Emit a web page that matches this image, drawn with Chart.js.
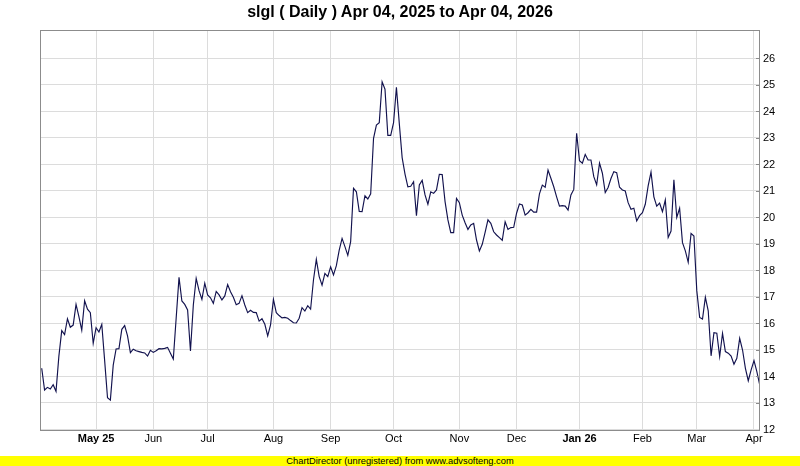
<!DOCTYPE html>
<html>
<head>
<meta charset="utf-8">
<script src="https://cdn.jsdelivr.net/npm/chart.js@4.4.1/dist/chart.umd.min.js"></script>
<style>
  html, body { margin: 0; padding: 0; background: #ffffff; }
  #wrap { position: relative; width: 800px; height: 466px; overflow: hidden; background: #fff; }
  #title { position: absolute; left: 0; top: 3px; width: 800px; text-align: center;
           font: bold 16px "Liberation Sans", Arial, sans-serif; color: #000; }
  #footer { position: absolute; left: 0; top: 456px; width: 800px; height: 10px; background: #ffff00;
            text-align: center; font: 9.3px/10px "Liberation Sans", Arial, sans-serif; color: #000; }
  canvas { position: absolute; left: 0; top: 0; }
</style>
</head>
<body>
<div id="wrap">
  <canvas id="c" width="800" height="466"></canvas>
  <div id="title">slgl ( Daily ) Apr 04, 2025 to Apr 04, 2026</div>
  <div id="footer">ChartDirector (unregistered) from www.advsofteng.com</div>
</div>
<script>
// Trading-day index of each reading (0 = Apr 04, 2025)
const dayIndex = [
  0,1,2,3,4,5,6,7,8,9,10,11,12,13,14,15,16,17,18,19,
  20,21,22,23,24,25,26,27,28,29,30,31,32,33,34,35,36,37,38,39,
  40,41,42,43,44,45,46,48,49,50,51,52,53,54,55,56,57,58,59,
  60,61,62,63,64,65,66,67,68,69,70,71,72,73,74,75,76,77,78,79,
  80,81,82,83,84,85,86,87,88,89,90,91,92,93,94,95,96,97,98,99,
  100,101,102,103,104,105,106,107,108,109,110,111,112,113,114,115,116,117,118,119,
  120,121,122,123,124,125,126,127,128,129,130,131,132,133,134,135,136,137,138,139,
  140,141,142,143,144,145,146,147,148,149,150,151,152,153,154,155,156,157,158,159,
  160,161,162,163,164,165,166,167,168,169,170,171,172,173,174,175,176,177,178,179,
  180,181,182,183,184,185,186,187,188,189,190,191,192,193,194,195,196,197,198,199,
  200,201,202,203,204,205,206,207,208,209,210,211,212,213,214,215,216,217,218,219,
  220,221,222,223,224,225,226,227,228,229,230,231,232,233,234,235,236,237,238,239,
  240,241,242,243,244,245,246,247,248,249,250,251
];
// Daily close values
const closeValues = [
  14.31,13.49,13.59,13.53,13.69,13.44,14.77,15.73,15.58,16.18,15.86,15.94,16.72,16.26,15.75,16.86,16.54,16.41,15.25,15.84,
  15.68,15.97,14.60,13.20,13.11,14.43,15.04,15.05,15.78,15.92,15.53,14.90,15.03,14.97,14.94,14.91,14.89,14.77,14.99,14.91,
  14.97,15.05,15.04,15.06,15.10,14.88,14.66,17.74,16.85,16.72,16.51,14.96,16.70,17.70,17.24,16.91,17.52,17.08,16.97,
  16.76,17.21,17.08,16.89,17.04,17.47,17.20,16.99,16.71,16.76,17.05,16.70,16.41,16.50,16.42,16.41,16.09,16.18,15.97,15.53,
  15.95,16.91,16.41,16.30,16.21,16.23,16.20,16.11,16.03,16.02,16.20,16.60,16.47,16.67,16.54,17.64,18.42,17.77,17.45,17.89,
  17.77,18.14,17.83,18.18,18.77,19.21,18.90,18.57,19.09,21.10,20.97,20.23,20.22,20.82,20.70,20.89,22.99,23.49,23.58,25.12,
  24.84,23.10,23.10,23.58,24.91,23.55,22.26,21.64,21.16,21.18,21.35,20.07,21.23,21.40,20.85,20.50,20.97,20.91,21.04,21.63,
  21.62,20.60,19.91,19.43,19.43,20.72,20.56,20.09,19.80,19.55,19.72,19.78,19.15,18.74,18.99,19.44,19.91,19.78,19.46,19.34,
  19.24,19.14,19.84,19.55,19.62,19.63,20.16,20.51,20.47,20.09,20.18,20.31,20.20,20.20,20.89,21.22,21.14,21.79,21.48,21.16,
  20.78,20.43,20.45,20.43,20.28,20.85,21.06,23.18,22.14,22.05,22.38,22.17,22.17,21.54,21.23,22.05,21.67,20.94,21.13,21.47,
  21.73,21.69,21.14,21.04,21.00,20.56,20.31,20.35,19.87,20.07,20.18,20.50,21.19,21.71,20.78,20.43,20.54,20.22,20.66,19.25,
  19.49,21.42,20.00,20.35,19.05,18.74,18.31,19.40,19.30,17.24,16.23,16.17,16.99,16.48,14.78,15.65,15.63,14.75,15.63,14.94,
  14.88,14.77,14.46,14.69,15.44,15.00,14.31,13.84,14.25,14.60,14.18,13.68
];
// Month gridlines: trading-day index and label
const monthTickIndex = [19, 39, 58, 81, 101, 123, 146, 166, 188, 210, 229, 249];
const monthTickLabels = ["May 25","Jun","Jul","Aug","Sep","Oct","Nov","Dec","Jan 26","Feb","Mar","Apr"];
const yearTickLabels = ["May 25","Jan 26"];
const priceTicks = [12,13,14,15,16,17,18,19,20,21,22,23,24,25,26];

const points = dayIndex.map((d, i) => ({ x: d, y: closeValues[i] }));

const frame = {
  id: 'frame',
  afterDraw(chart) {
    const { ctx, chartArea: a } = chart;
    const ys = chart.scales.y;
    ctx.save();
    ctx.strokeStyle = '#8c8c8c';
    ctx.lineWidth = 1;
    ctx.beginPath();
    priceTicks.forEach(v => {
      const y = Math.round(ys.getPixelForValue(v)) + 0.5;
      ctx.moveTo(a.right - 4, y);
      ctx.lineTo(a.right, y);
    });
    ctx.stroke();
    ctx.strokeRect(Math.round(a.left) + 0.5, Math.round(a.top) + 0.5,
                   Math.round(a.right - a.left) - 1, Math.round(a.bottom - a.top));
    ctx.restore();
  }
};

new Chart(document.getElementById('c'), {
  type: 'line',
  data: {
    datasets: [{
      data: points,
      borderColor: '#12124e',
      borderWidth: 1.15,
      pointRadius: 0,
      tension: 0,
      fill: false
    }]
  },
  options: {
    responsive: false,
    animation: false,
    devicePixelRatio: 1,
    layout: { padding: { left: 40, top: 30, right: 0, bottom: 10 } },
    plugins: { legend: { display: false }, title: { display: false }, tooltip: { enabled: false } },
    scales: {
      x: {
        type: 'linear',
        min: -0.6,
        max: 251.1,
        afterBuildTicks: s => { s.ticks = monthTickIndex.map(v => ({ value: v })); },
        afterFit: s => { s.height = 26.5; },
        grid: { color: '#dcdcdc', lineWidth: 1, drawTicks: false },
        border: { display: false },
        ticks: {
          autoSkip: false,
          maxRotation: 0,
          padding: 3,
          color: '#000',
          font: ctx => ({
            family: '"Liberation Sans", Arial, sans-serif',
            size: 11,
            weight: (ctx.tick && yearTickLabels.includes(monthTickLabels[monthTickIndex.indexOf(ctx.tick.value)])) ? 'bold' : 'normal'
          }),
          callback: v => { const k = monthTickIndex.indexOf(v); return k >= 0 ? monthTickLabels[k] : ''; }
        }
      },
      y: {
        position: 'right',
        min: 12,
        max: 27.075,
        afterBuildTicks: s => { s.ticks = priceTicks.map(v => ({ value: v })); },
        afterFit: s => { s.width = 40; },
        grid: { color: '#dcdcdc', lineWidth: 1, drawTicks: false },
        border: { display: false },
        ticks: {
          padding: 3,
          color: '#000',
          font: { family: '"Liberation Sans", Arial, sans-serif', size: 11 },
          callback: v => String(v)
        }
      }
    }
  },
  plugins: [frame]
});
</script>
</body>
</html>
